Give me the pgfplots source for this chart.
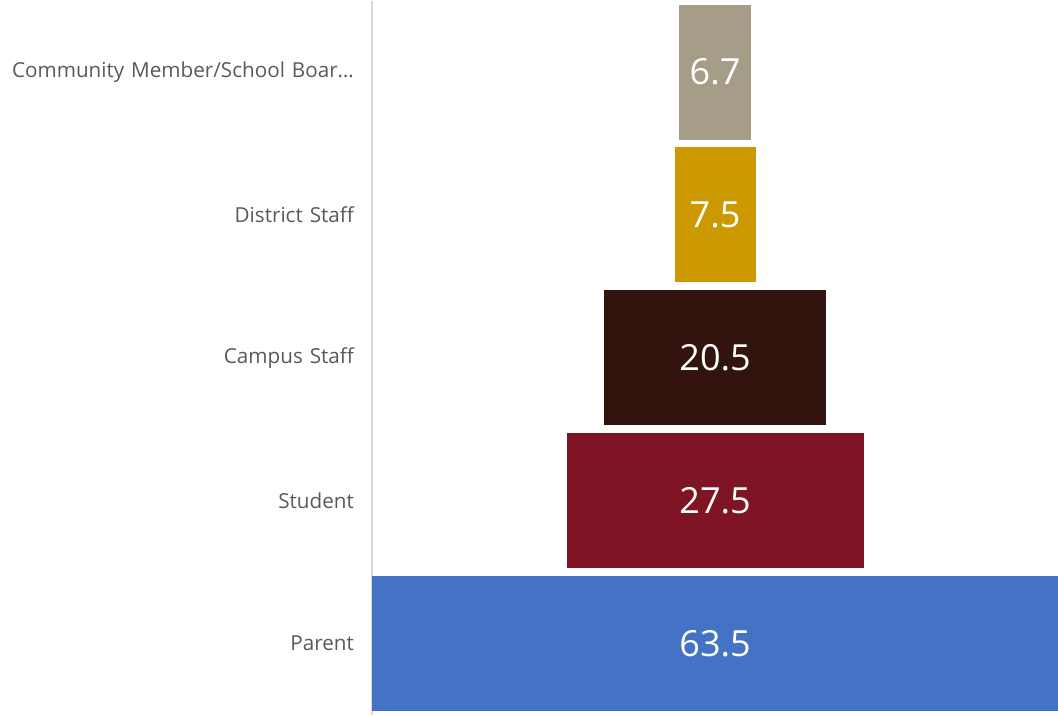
\documentclass[border=0pt]{standalone}
\usepackage{pgfplots}
\pgfplotsset{compat=1.18}
\usepackage{fontspec}
\setmainfont{Open Sans}
\definecolor{cComm}{HTML}{A69D88}
\definecolor{cDist}{HTML}{CC9900}
\definecolor{cCamp}{HTML}{32130D}
\definecolor{cStud}{HTML}{7F1425}
\definecolor{cPar}{HTML}{4472C4}
\definecolor{tickgray}{HTML}{595959}
\begin{document}
\begin{tikzpicture}
\pgfplotsset{
  funnel/.style={
    scale only axis,
    width=514.5pt, height=535.5pt,
    xmin=0, xmax=63.5,
    ymin=-0.5, ymax=4.5,
  },
}
\begin{axis}[
  funnel,
  xbar stacked,
  bar width=101.25pt,
  axis x line=none,
  axis y line=left,
  axis line style={-, draw=black!15, line width=1.2pt},
  ytick={0,1,2,3,4},
  yticklabels={Parent, Student, Campus Staff, District Staff, {Community Member/School Boar…}},
  major tick length=0pt,
  yticklabel style={font=\fontsize{15.5}{18}\selectfont, text=tickgray,
    anchor=east, inner sep=0pt, text width=265.5pt, align=right, xshift=-13.5pt},
]
% invisible offsets that centre each bar
\addplot[draw=none, fill=none] coordinates {(0,0) (18,1) (21.5,2) (28,3) (28.4,4)};
% visible segments, one colour per category
\addplot[draw=none, fill=cPar]  coordinates {(63.5,0) (0,1) (0,2) (0,3) (0,4)};
\addplot[draw=none, fill=cStud] coordinates {(0,0) (27.5,1) (0,2) (0,3) (0,4)};
\addplot[draw=none, fill=cCamp] coordinates {(0,0) (0,1) (20.5,2) (0,3) (0,4)};
\addplot[draw=none, fill=cDist] coordinates {(0,0) (0,1) (0,2) (7.5,3) (0,4)};
\addplot[draw=none, fill=cComm] coordinates {(0,0) (0,1) (0,2) (0,3) (6.7,4)};
\end{axis}
\begin{axis}[
  funnel,
  hide axis,
]
\addplot[only marks, mark=none, nodes near coords, point meta=explicit symbolic,
  every node near coord/.append style={anchor=center, text=white, font=\fontsize{27}{31}\selectfont}]
  coordinates {(31.75,0)[63.5] (31.75,1)[27.5] (31.75,2)[20.5] (31.75,3)[7.5] (31.75,4)[6.7]};
\end{axis}
\end{tikzpicture}
\end{document}
